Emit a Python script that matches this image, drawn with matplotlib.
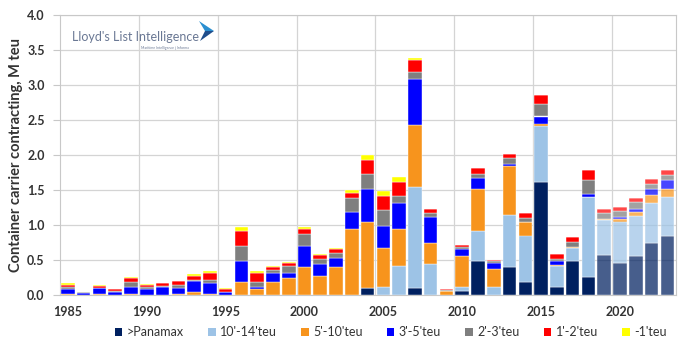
import numpy as np
import matplotlib.pyplot as plt
from matplotlib.colors import to_rgba
from matplotlib.patches import Patch, Polygon

# -------------------------
# Data (M teu contracted per year, by size band)
# -------------------------
years = list(range(1985, 2024))

panamax = [0, 0, 0, 0, 0, 0, 0, 0, 0, 0,
           0, 0, 0, 0, 0, 0, 0, 0, 0, 0.10,
           0, 0, 0.10, 0, 0, 0.06, 0.48, 0, 0.40, 0.18,
           1.62, 0.12, 0.48, 0.26, 0.57, 0.46, 0.56, 0.75, 0.84]
teu_10_14 = [0, 0, 0, 0, 0, 0, 0, 0, 0, 0,
             0, 0, 0, 0, 0, 0, 0, 0, 0, 0,
             0.11, 0.41, 1.44, 0.45, 0, 0.05, 0.44, 0.12, 0.74, 0.67,
             0.79, 0.30, 0.19, 1.14, 0.50, 0.59, 0.57, 0.56, 0.56]
teu_5_10 = [0.01, 0, 0.01, 0, 0.01, 0, 0, 0.01, 0.05, 0.02,
            0, 0.19, 0.08, 0.19, 0.24, 0.405, 0.27, 0.405, 0.94, 0.94,
            0.56, 0.54, 0.89, 0.30, 0.06, 0.45, 0.59, 0.25, 0.71, 0.19,
            0.04, 0.01, 0.01, 0, 0.02, 0.03, 0.05, 0.12, 0.12]
teu_3_5 = [0.08, 0.035, 0.085, 0.05, 0.11, 0.09, 0.11, 0.09, 0.15, 0.15,
           0.04, 0.30, 0.04, 0.13, 0.08, 0.30, 0.17, 0.13, 0.25, 0.48,
           0.32, 0.37, 0.66, 0.36, 0, 0.10, 0.16, 0.09, 0.02, 0,
           0.10, 0.05, 0.01, 0.04, 0, 0.03, 0.05, 0.09, 0.13]
teu_2_3 = [0.02, 0.005, 0.01, 0.01, 0.07, 0.02, 0.02, 0.04, 0.02, 0.04,
           0.01, 0.21, 0.07, 0.04, 0.09, 0.16, 0.07, 0.07, 0.20, 0.21,
           0.22, 0.09, 0.10, 0.06, 0.01, 0.03, 0.06, 0.02, 0.09, 0.06,
           0.18, 0.03, 0.07, 0.21, 0.08, 0.09, 0.10, 0.07, 0.07]
teu_1_2 = [0.04, 0.01, 0.03, 0.03, 0.055, 0.035, 0.045, 0.055, 0.05, 0.10,
           0.04, 0.22, 0.12, 0.04, 0.05, 0.08, 0.06, 0.05, 0.07, 0.20,
           0.20, 0.20, 0.16, 0.06, 0.01, 0.02, 0.08, 0.02, 0.06, 0.07,
           0.13, 0.08, 0.07, 0.13, 0.06, 0.05, 0.06, 0.07, 0.07]
teu_0_1 = [0.015, 0, 0.005, 0, 0.01, 0.01, 0, 0.005, 0.03, 0.03,
           0.01, 0.05, 0.03, 0.02, 0.01, 0.02, 0.02, 0.02, 0.04, 0.07,
           0.07, 0.07, 0.03, 0, 0, 0, 0, 0.005, 0, 0,
           0, 0, 0, 0, 0, 0, 0, 0, 0]

series = [panamax, teu_10_14, teu_5_10, teu_3_5, teu_2_3, teu_1_2, teu_0_1]
labels = [">Panamax", "10'-14'teu", "5'-10'teu", "3'-5'teu",
          "2'-3'teu", "1'-2'teu", "-1'teu"]
colors = ["#002060", "#9DC3E6", "#F7941D", "#0000FF",
          "#7F7F7F", "#FF0000", "#FFFF00"]

plt.rcParams["font.family"] = ["Lato", "DejaVu Sans"]

fig = plt.figure(figsize=(6.82, 3.42), dpi=100)
ax = fig.add_axes([60 / 682, 1 - 295 / 342, 616 / 682, 280 / 342])

# -------------------------
# Stacked bars (recent years drawn faded)
# -------------------------
bottom = np.zeros(len(years))
for vals, col in zip(series, colors):
    bar_cols = [to_rgba(col, 0.72 if y >= 2019 else 1.0) for y in years]
    ax.bar(years, vals, bottom=bottom, width=0.86, color=bar_cols,
           edgecolor="white", linewidth=0.3, zorder=3)
    bottom += np.array(vals)

# -------------------------
# Axes styling
# -------------------------
ax.set_xlim(1984.5, 2023.55)
ax.set_ylim(0, 4.0)
ax.set_yticks(np.arange(0, 4.01, 0.5))
ax.set_yticklabels([f"{v:.1f}" for v in np.arange(0, 4.01, 0.5)])
ax.set_xticks(range(1985, 2021, 5))
ax.yaxis.grid(True, color="#d4d4d4", linewidth=0.9, zorder=0)
for x in range(1990, 2021, 5):
    ax.axvline(x - 0.5, color="#d4d4d4", linewidth=0.9, zorder=0)

for sp in ax.spines.values():
    sp.set_color("#c8c8c8")
ax.tick_params(axis="y", length=5, color="#c8c8c8", pad=6,
               labelsize=9, labelcolor="#333333")
ax.tick_params(axis="x", length=0, pad=8, labelsize=9, labelcolor="#333333")
for lab in ax.get_xticklabels() + ax.get_yticklabels():
    lab.set_fontweight("bold")

ax.set_ylabel("Container carrier contracting, M teu", fontsize=10.5,
              fontweight="bold", color="#333333", labelpad=3)

# -------------------------
# Legend
# -------------------------
handles = [Patch(facecolor=c, edgecolor="none") for c in colors]
fig.legend(handles, labels, loc="center", bbox_to_anchor=(0.573, 0.028),
           ncol=7, frameon=False, fontsize=9, handlelength=0.6,
           handleheight=0.6, handletextpad=0.35, columnspacing=1.95,
           labelcolor="#333333")

# -------------------------
# Logo
# -------------------------
fig.text(72 / 682, 1 - 37 / 342, "Lloyd's List Intelligence", fontsize=9,
         color="#6a7894", va="center", ha="left")
fig.text(165 / 682, 1 - 48 / 342, "Maritime Intelligence | Informa",
         fontsize=2.5, color="#6a7894", va="center", ha="center")
tri1 = Polygon([(199 / 682, 1 - 21 / 342), (214 / 682, 1 - 31 / 342),
                (205 / 682, 1 - 31 / 342)], closed=True,
               transform=fig.transFigure, facecolor="#2a8fd0", edgecolor="none")
tri2 = Polygon([(205 / 682, 1 - 31 / 342), (214 / 682, 1 - 31 / 342),
                (200 / 682, 1 - 41 / 342)], closed=True,
               transform=fig.transFigure, facecolor="#1f4e8c", edgecolor="none")
fig.patches.extend([tri1, tri2])

fig.savefig("out.png", dpi=100)
